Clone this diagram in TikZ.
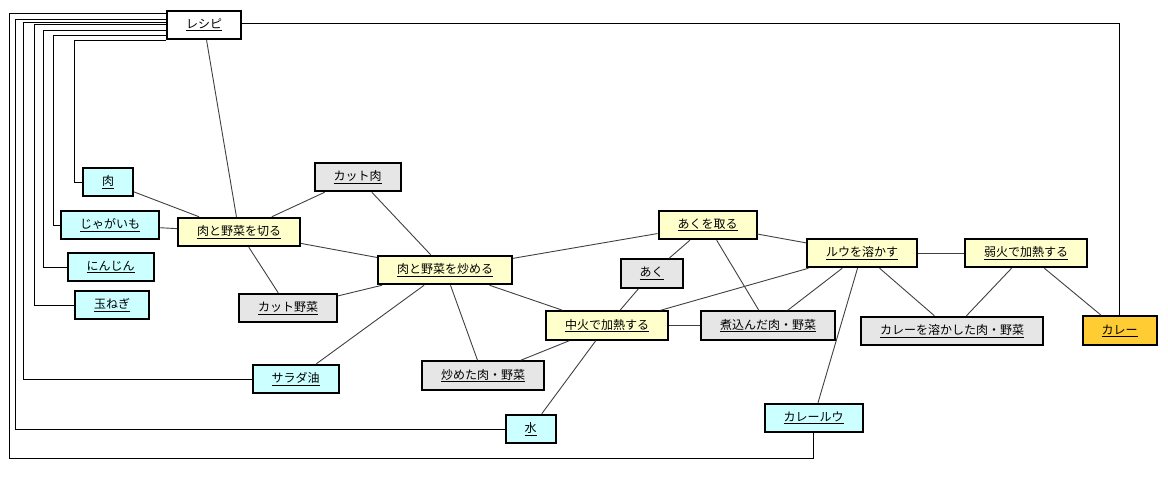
\documentclass[tikz,border=0pt]{standalone}
\usepackage{fontspec}
\newfontfamily\jpfont{Noto Sans CJK JP}
\usetikzlibrary{positioning, calc}

\definecolor{ingrfill}{HTML}{CCFFFF}
\definecolor{procfill}{HTML}{FFFFCC}
\definecolor{prodfill}{HTML}{E6E6E6}
\definecolor{goalfill}{HTML}{FFCC33}

\begin{document}
\begin{tikzpicture}[x=1pt, y=-1pt,
    font=\jpfont\fontsize{12}{14}\selectfont]

  \tikzset{box/.style={draw, line width=2pt, inner xsep=19pt, inner ysep=0pt,
      minimum height=28.5pt}}
  \tikzset{ingr/.style={box, fill=ingrfill}}
  \tikzset{proc/.style={box, fill=procfill}}
  \tikzset{prod/.style={box, fill=prodfill}}
  \tikzset{goal/.style={box, fill=goalfill}}
  \tikzset{link/.style={line width=0.9pt, black!75}}
  \tikzset{wire/.style={line width=1pt, black}}

  \useasboundingbox (0,0) rectangle (1168,485);

  % recipe
  \node[box, fill=white] at (204,25) (recipe) {\underline{レシピ}};

  % ingredients
  \node[ingr] at (108,182) (meat) {\underline{肉}};
  \node[ingr] at (110,225) (potato) {\underline{じゃがいも}};
  \node[ingr] at (110.5,267) (carrot) {\underline{にんじん}};
  \node[ingr] at (112,305) (onion) {\underline{玉ねぎ}};
  \node[ingr] at (295.5,379) (oil) {\underline{サラダ油}};
  \node[ingr] at (530.5,429) (water) {\underline{水}};
  \node[ingr] at (813.5,418) (roux) {\underline{カレールウ}};

  % steps
  \node[proc] at (239,232) (cut) {\underline{肉と野菜を切る}};
  \node[proc] at (445,270) (fry) {\underline{肉と野菜を炒める}};
  \node[proc] at (607,325.5) (boil) {\underline{中火で加熱する}};
  \node[proc] at (707.5,225) (skim) {\underline{あくを取る}};
  \node[proc] at (862,253) (melt) {\underline{ルウを溶かす}};
  \node[proc] at (1026,253) (simmer) {\underline{弱火で加熱する}};

  % intermediate products
  \node[prod] at (357.5,177) (cutmeat) {\underline{カット肉}};
  \node[prod] at (288,308) (cutveg) {\underline{カット野菜}};
  \node[prod] at (483,375.5) (fried) {\underline{炒めた肉・野菜}};
  \node[prod] at (651.5,273.5) (scum) {\underline{あく}};
  \node[prod] at (768,325.5) (stewed) {\underline{煮込んだ肉・野菜}};
  \node[prod] at (952,331) (mixed) {\underline{カレーを溶かした肉・野菜}};
  \node[goal] at (1119.5,330.5) (curry) {\underline{カレー}};

  % recipe wires
  \draw[wire] ([yshift=-15pt]recipe.west) -| ([xshift=-8pt]meat.west) -- (meat.west);
  \draw[wire] ([yshift=-10pt]recipe.west) -| ([xshift=-7pt]potato.west) -- (potato.west);
  \draw[wire] ([yshift=-5pt]recipe.west) -| ([xshift=-23pt]carrot.west) -- (carrot.west);
  \draw[wire] ([yshift=0.5pt]recipe.west) -| ([xshift=-40pt]onion.west) -- (onion.west);
  \draw[wire] ([yshift=3pt]recipe.west) -| ([xshift=-228pt]oil.west) -- (oil.west);
  \draw[wire] ([yshift=6pt]recipe.west) -| ([xshift=-489pt]water.west) -- (water.west);
  \draw[wire] ([yshift=12pt]recipe.west) -| ([shift={(-804,25)}]roux.south) -| (roux.south);
  \draw[wire] ([yshift=2pt]recipe.east) -| (curry.north);

  % step links
  \draw[link] (recipe) -- (cut);
  \draw[link] (meat) -- (cut);
  \draw[link] (potato) -- (cut);
  \draw[link] (cut) -- (cutmeat);
  \draw[link] (cut) -- (cutveg);
  \draw[link] (cut) -- (fry);
  \draw[link] (cutmeat) -- (fry);
  \draw[link] (cutveg) -- (fry);
  \draw[link] (oil) -- (fry);
  \draw[link] (fry) -- (fried);
  \draw[link] (fry) -- (boil);
  \draw[link] (fry) -- (skim);
  \draw[link] (fried) -- (boil);
  \draw[link] (water) -- (boil);
  \draw[link] (boil) -- (scum);
  \draw[link] (boil) -- (stewed);
  \draw[link] (boil) -- (melt);
  \draw[link] (skim) -- (scum);
  \draw[link] (skim) -- (stewed);
  \draw[link] (skim) -- (melt);
  \draw[link] (melt) -- (stewed);
  \draw[link] (melt) -- (roux);
  \draw[link] (melt) -- (mixed);
  \draw[link] (melt) -- (simmer);
  \draw[link] (simmer) -- (mixed);
  \draw[link] (simmer) -- (curry);
\end{tikzpicture}
\end{document}
